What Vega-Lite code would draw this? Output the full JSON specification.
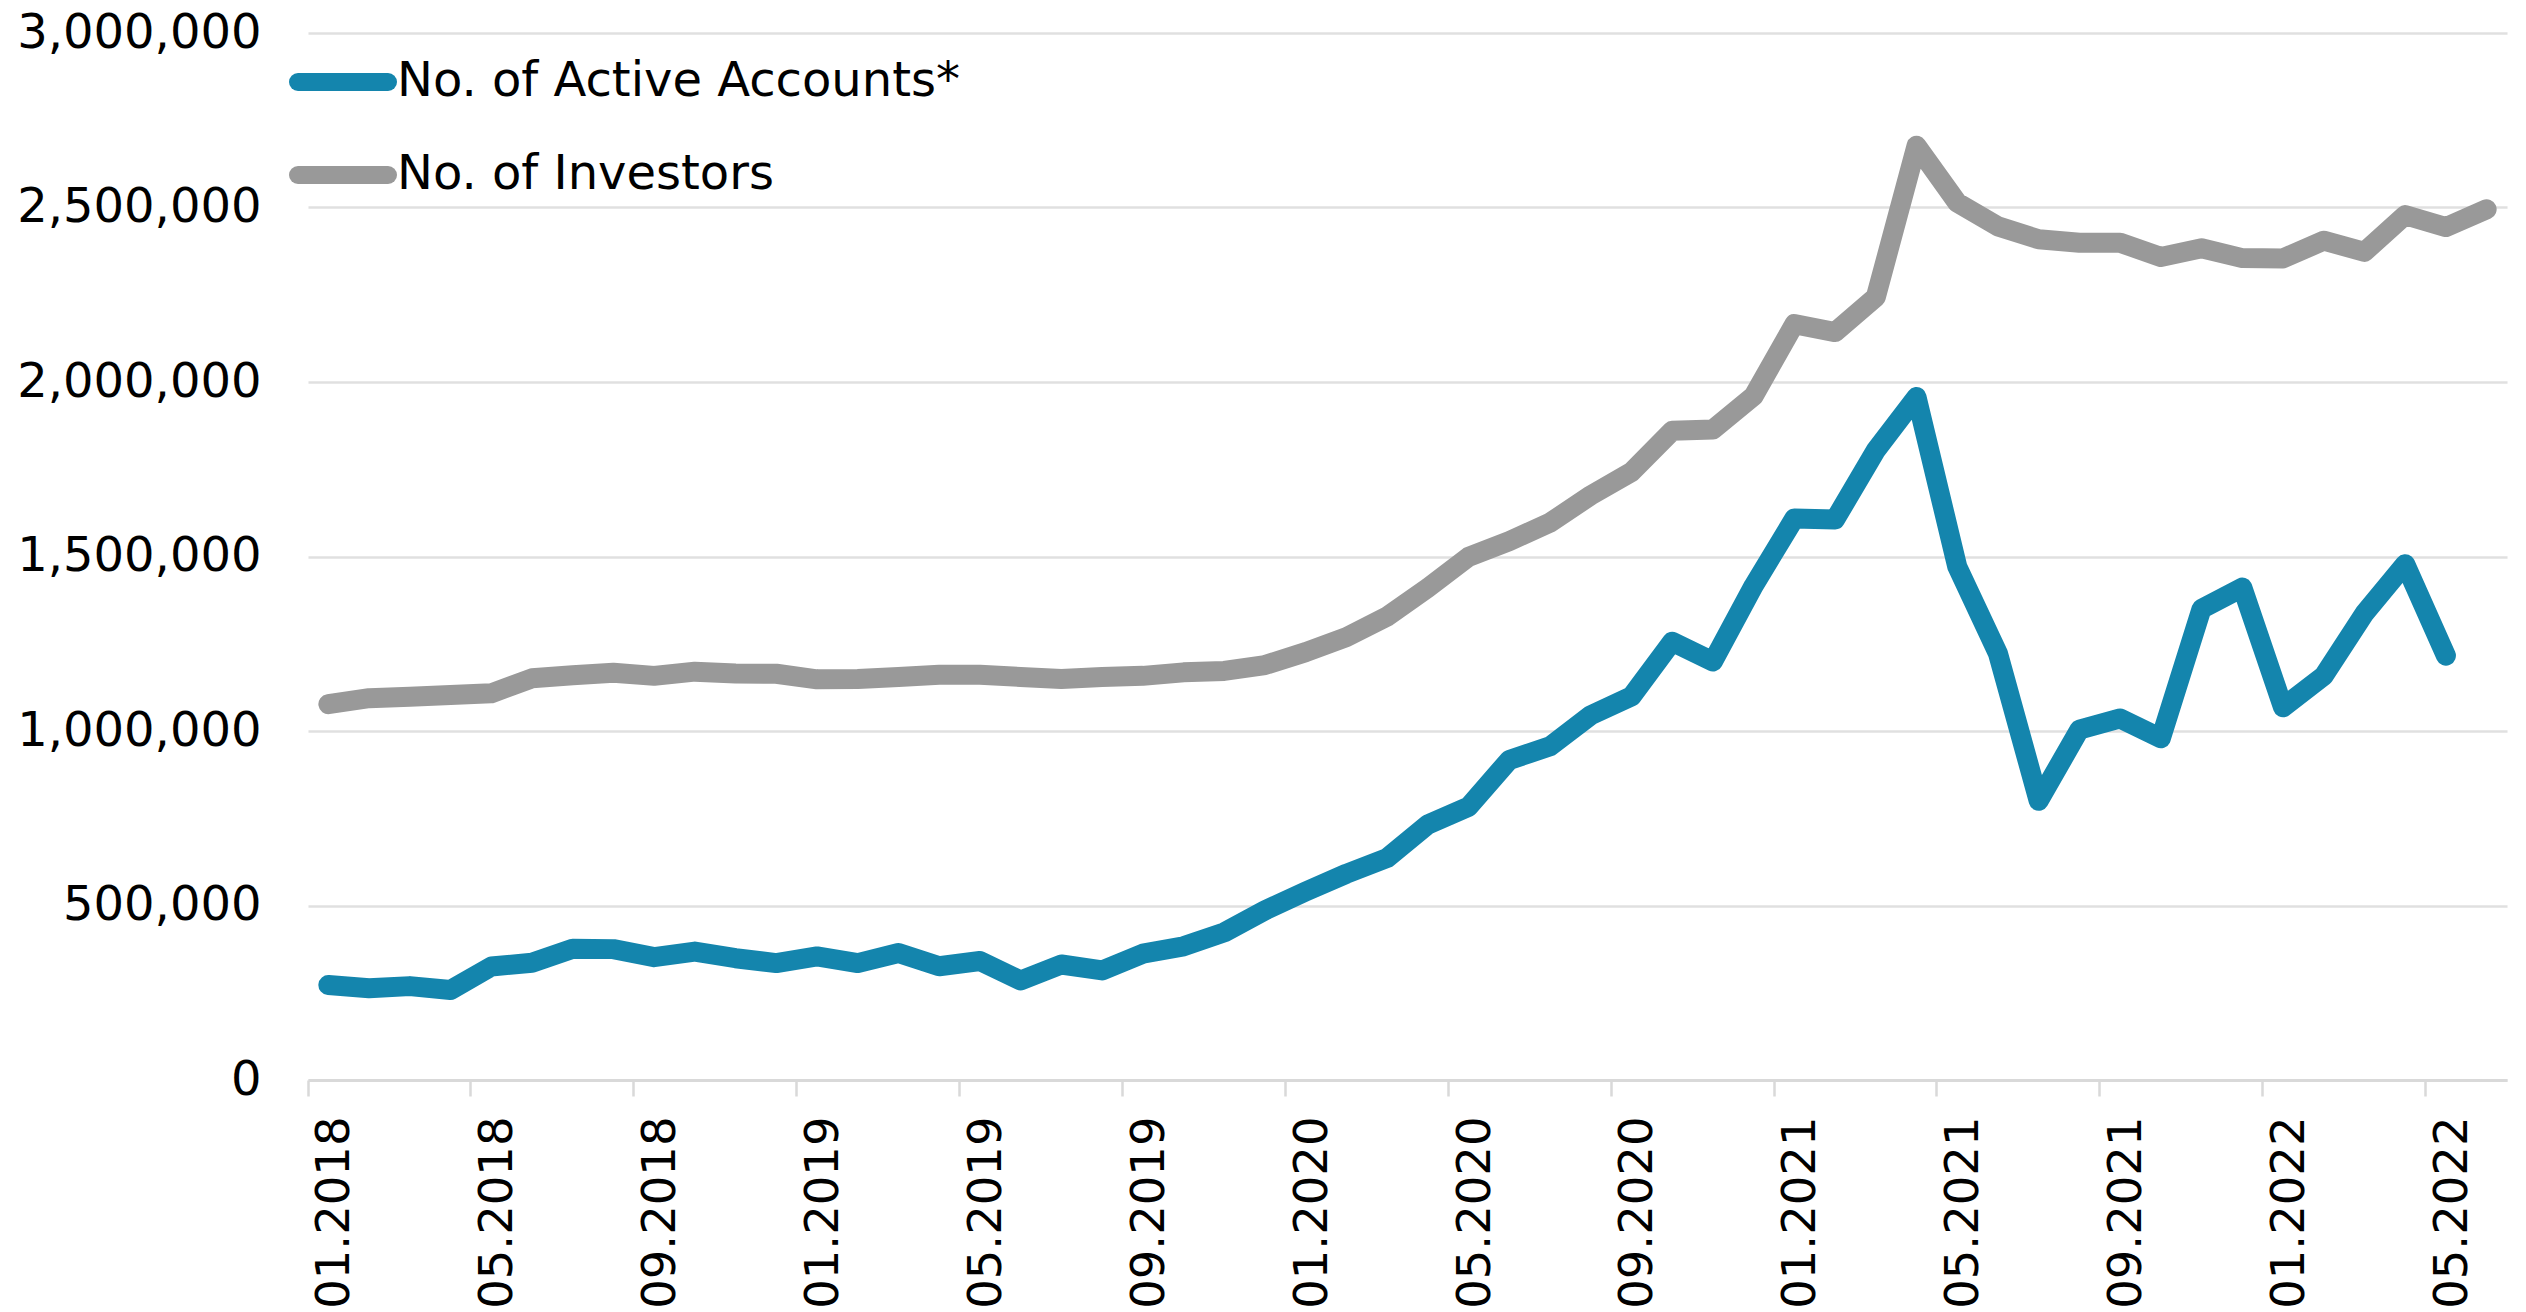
{
  "$schema": "https://vega.github.io/schema/vega-lite/v6.json",
  "autosize": "none",
  "width": 2199,
  "height": 1047,
  "padding": {"left": 308, "top": 33, "right": 19, "bottom": 232},
  "background": "white",
  "config": {
    "view": {"stroke": null},
    "font": "DejaVu Sans"
  },
  "data": {
    "values": [
      {"month": "01.2018", "series": "No. of Investors", "value": 1077000},
      {"month": "02.2018", "series": "No. of Investors", "value": 1094000},
      {"month": "03.2018", "series": "No. of Investors", "value": 1098000},
      {"month": "04.2018", "series": "No. of Investors", "value": 1103000},
      {"month": "05.2018", "series": "No. of Investors", "value": 1108000},
      {"month": "06.2018", "series": "No. of Investors", "value": 1151000},
      {"month": "07.2018", "series": "No. of Investors", "value": 1160000},
      {"month": "08.2018", "series": "No. of Investors", "value": 1167000},
      {"month": "09.2018", "series": "No. of Investors", "value": 1158000},
      {"month": "10.2018", "series": "No. of Investors", "value": 1170000},
      {"month": "11.2018", "series": "No. of Investors", "value": 1165000},
      {"month": "12.2018", "series": "No. of Investors", "value": 1164000},
      {"month": "01.2019", "series": "No. of Investors", "value": 1148000},
      {"month": "02.2019", "series": "No. of Investors", "value": 1149000},
      {"month": "03.2019", "series": "No. of Investors", "value": 1155000},
      {"month": "04.2019", "series": "No. of Investors", "value": 1161000},
      {"month": "05.2019", "series": "No. of Investors", "value": 1161000},
      {"month": "06.2019", "series": "No. of Investors", "value": 1155000},
      {"month": "07.2019", "series": "No. of Investors", "value": 1149000},
      {"month": "08.2019", "series": "No. of Investors", "value": 1155000},
      {"month": "09.2019", "series": "No. of Investors", "value": 1158000},
      {"month": "10.2019", "series": "No. of Investors", "value": 1168000},
      {"month": "11.2019", "series": "No. of Investors", "value": 1172000},
      {"month": "12.2019", "series": "No. of Investors", "value": 1189000},
      {"month": "01.2020", "series": "No. of Investors", "value": 1226000},
      {"month": "02.2020", "series": "No. of Investors", "value": 1269000},
      {"month": "03.2020", "series": "No. of Investors", "value": 1328000},
      {"month": "04.2020", "series": "No. of Investors", "value": 1410000},
      {"month": "05.2020", "series": "No. of Investors", "value": 1499000},
      {"month": "06.2020", "series": "No. of Investors", "value": 1544000},
      {"month": "07.2020", "series": "No. of Investors", "value": 1597000},
      {"month": "08.2020", "series": "No. of Investors", "value": 1675000},
      {"month": "09.2020", "series": "No. of Investors", "value": 1742000},
      {"month": "10.2020", "series": "No. of Investors", "value": 1860000},
      {"month": "11.2020", "series": "No. of Investors", "value": 1864000},
      {"month": "12.2020", "series": "No. of Investors", "value": 1960000},
      {"month": "01.2021", "series": "No. of Investors", "value": 2166000},
      {"month": "02.2021", "series": "No. of Investors", "value": 2143000},
      {"month": "03.2021", "series": "No. of Investors", "value": 2243000},
      {"month": "04.2021", "series": "No. of Investors", "value": 2677000},
      {"month": "05.2021", "series": "No. of Investors", "value": 2514000},
      {"month": "06.2021", "series": "No. of Investors", "value": 2446000},
      {"month": "07.2021", "series": "No. of Investors", "value": 2409000},
      {"month": "08.2021", "series": "No. of Investors", "value": 2399000},
      {"month": "09.2021", "series": "No. of Investors", "value": 2399000},
      {"month": "10.2021", "series": "No. of Investors", "value": 2358000},
      {"month": "11.2021", "series": "No. of Investors", "value": 2383000},
      {"month": "12.2021", "series": "No. of Investors", "value": 2355000},
      {"month": "01.2022", "series": "No. of Investors", "value": 2354000},
      {"month": "02.2022", "series": "No. of Investors", "value": 2405000},
      {"month": "03.2022", "series": "No. of Investors", "value": 2373000},
      {"month": "04.2022", "series": "No. of Investors", "value": 2478000},
      {"month": "05.2022", "series": "No. of Investors", "value": 2444000},
      {"month": "06.2022", "series": "No. of Investors", "value": 2495000},
      {"month": "01.2018", "series": "No. of Active Accounts*", "value": 272000},
      {"month": "02.2018", "series": "No. of Active Accounts*", "value": 263000},
      {"month": "03.2018", "series": "No. of Active Accounts*", "value": 269000},
      {"month": "04.2018", "series": "No. of Active Accounts*", "value": 258000},
      {"month": "05.2018", "series": "No. of Active Accounts*", "value": 325000},
      {"month": "06.2018", "series": "No. of Active Accounts*", "value": 336000},
      {"month": "07.2018", "series": "No. of Active Accounts*", "value": 376000},
      {"month": "08.2018", "series": "No. of Active Accounts*", "value": 375000},
      {"month": "09.2018", "series": "No. of Active Accounts*", "value": 352000},
      {"month": "10.2018", "series": "No. of Active Accounts*", "value": 368000},
      {"month": "11.2018", "series": "No. of Active Accounts*", "value": 349000},
      {"month": "12.2018", "series": "No. of Active Accounts*", "value": 335000},
      {"month": "01.2019", "series": "No. of Active Accounts*", "value": 354000},
      {"month": "02.2019", "series": "No. of Active Accounts*", "value": 335000},
      {"month": "03.2019", "series": "No. of Active Accounts*", "value": 364000},
      {"month": "04.2019", "series": "No. of Active Accounts*", "value": 326000},
      {"month": "05.2019", "series": "No. of Active Accounts*", "value": 341000},
      {"month": "06.2019", "series": "No. of Active Accounts*", "value": 285000},
      {"month": "07.2019", "series": "No. of Active Accounts*", "value": 331000},
      {"month": "08.2019", "series": "No. of Active Accounts*", "value": 314000},
      {"month": "09.2019", "series": "No. of Active Accounts*", "value": 362000},
      {"month": "10.2019", "series": "No. of Active Accounts*", "value": 383000},
      {"month": "11.2019", "series": "No. of Active Accounts*", "value": 423000},
      {"month": "12.2019", "series": "No. of Active Accounts*", "value": 486000},
      {"month": "01.2020", "series": "No. of Active Accounts*", "value": 540000},
      {"month": "02.2020", "series": "No. of Active Accounts*", "value": 591000},
      {"month": "03.2020", "series": "No. of Active Accounts*", "value": 636000},
      {"month": "04.2020", "series": "No. of Active Accounts*", "value": 732000},
      {"month": "05.2020", "series": "No. of Active Accounts*", "value": 783000},
      {"month": "06.2020", "series": "No. of Active Accounts*", "value": 917000},
      {"month": "07.2020", "series": "No. of Active Accounts*", "value": 956000},
      {"month": "08.2020", "series": "No. of Active Accounts*", "value": 1045000},
      {"month": "09.2020", "series": "No. of Active Accounts*", "value": 1099000},
      {"month": "10.2020", "series": "No. of Active Accounts*", "value": 1256000},
      {"month": "11.2020", "series": "No. of Active Accounts*", "value": 1199000},
      {"month": "12.2020", "series": "No. of Active Accounts*", "value": 1416000},
      {"month": "01.2021", "series": "No. of Active Accounts*", "value": 1609000},
      {"month": "02.2021", "series": "No. of Active Accounts*", "value": 1606000},
      {"month": "03.2021", "series": "No. of Active Accounts*", "value": 1804000},
      {"month": "04.2021", "series": "No. of Active Accounts*", "value": 1957000},
      {"month": "05.2021", "series": "No. of Active Accounts*", "value": 1471000},
      {"month": "06.2021", "series": "No. of Active Accounts*", "value": 1222000},
      {"month": "07.2021", "series": "No. of Active Accounts*", "value": 800000},
      {"month": "08.2021", "series": "No. of Active Accounts*", "value": 1004000},
      {"month": "09.2021", "series": "No. of Active Accounts*", "value": 1036000},
      {"month": "10.2021", "series": "No. of Active Accounts*", "value": 979000},
      {"month": "11.2021", "series": "No. of Active Accounts*", "value": 1350000},
      {"month": "12.2021", "series": "No. of Active Accounts*", "value": 1411000},
      {"month": "01.2022", "series": "No. of Active Accounts*", "value": 1068000},
      {"month": "02.2022", "series": "No. of Active Accounts*", "value": 1158000},
      {"month": "03.2022", "series": "No. of Active Accounts*", "value": 1337000},
      {"month": "04.2022", "series": "No. of Active Accounts*", "value": 1478000},
      {"month": "05.2022", "series": "No. of Active Accounts*", "value": 1216000}
    ]
  },
  "mark": {"type": "line", "strokeWidth": 20, "strokeCap": "round", "strokeJoin": "round"},
  "encoding": {
    "x": {
      "field": "month",
      "type": "ordinal",
      "sort": null,
      "scale": {"type": "band", "paddingInner": 0, "paddingOuter": 0},
      "axis": {
        "title": null,
        "values": ["01.2018", "05.2018", "09.2018", "01.2019", "05.2019", "09.2019", "01.2020", "05.2020", "09.2020", "01.2021", "05.2021", "09.2021", "01.2022", "05.2022"],
        "bandPosition": 0,
        "labelAngle": 270,
        "labelAlign": "right",
        "labelBaseline": "middle",
        "labelOffset": 7,
        "labelPadding": 20,
        "labelFontSize": 46.5,
        "labelLimit": 1000,
        "labelColor": "#000000",
        "labelFont": "DejaVu Sans",
        "ticks": true,
        "tickSize": 16,
        "tickWidth": 2.5,
        "tickColor": "#d9d9d9",
        "domain": true,
        "domainColor": "#d9d9d9",
        "domainWidth": 3,
        "grid": false
      }
    },
    "y": {
      "field": "value",
      "type": "quantitative",
      "scale": {"domain": [0, 3000000], "nice": false},
      "axis": {
        "title": null,
        "values": [0, 500000, 1000000, 1500000, 2000000, 2500000, 3000000],
        "format": ",.0f",
        "labelFontSize": 48,
        "labelLimit": 1000,
        "labelColor": "#000000",
        "labelFont": "DejaVu Sans",
        "labelPadding": 47,
        "ticks": false,
        "domain": false,
        "grid": true,
        "gridColor": "#e0e0e0",
        "gridWidth": 2.5
      }
    },
    "color": {
      "field": "series",
      "type": "nominal",
      "scale": {
        "domain": ["No. of Active Accounts*", "No. of Investors"],
        "range": ["#1485AD", "#999999"]
      },
      "legend": {
        "title": null,
        "orient": "none",
        "legendX": -19,
        "legendY": -5,
        "padding": 0,
        "symbolType": "stroke",
        "symbolSize": 8100,
        "symbolStrokeWidth": 18,
        "labelFontSize": 48,
        "labelLimit": 2000,
        "labelFont": "DejaVu Sans",
        "labelColor": "#000000",
        "labelOffset": 0,
        "rowPadding": 3,
        "encode": {"symbols": {"update": {"strokeCap": {"value": "round"}}}}
      }
    }
  }
}
